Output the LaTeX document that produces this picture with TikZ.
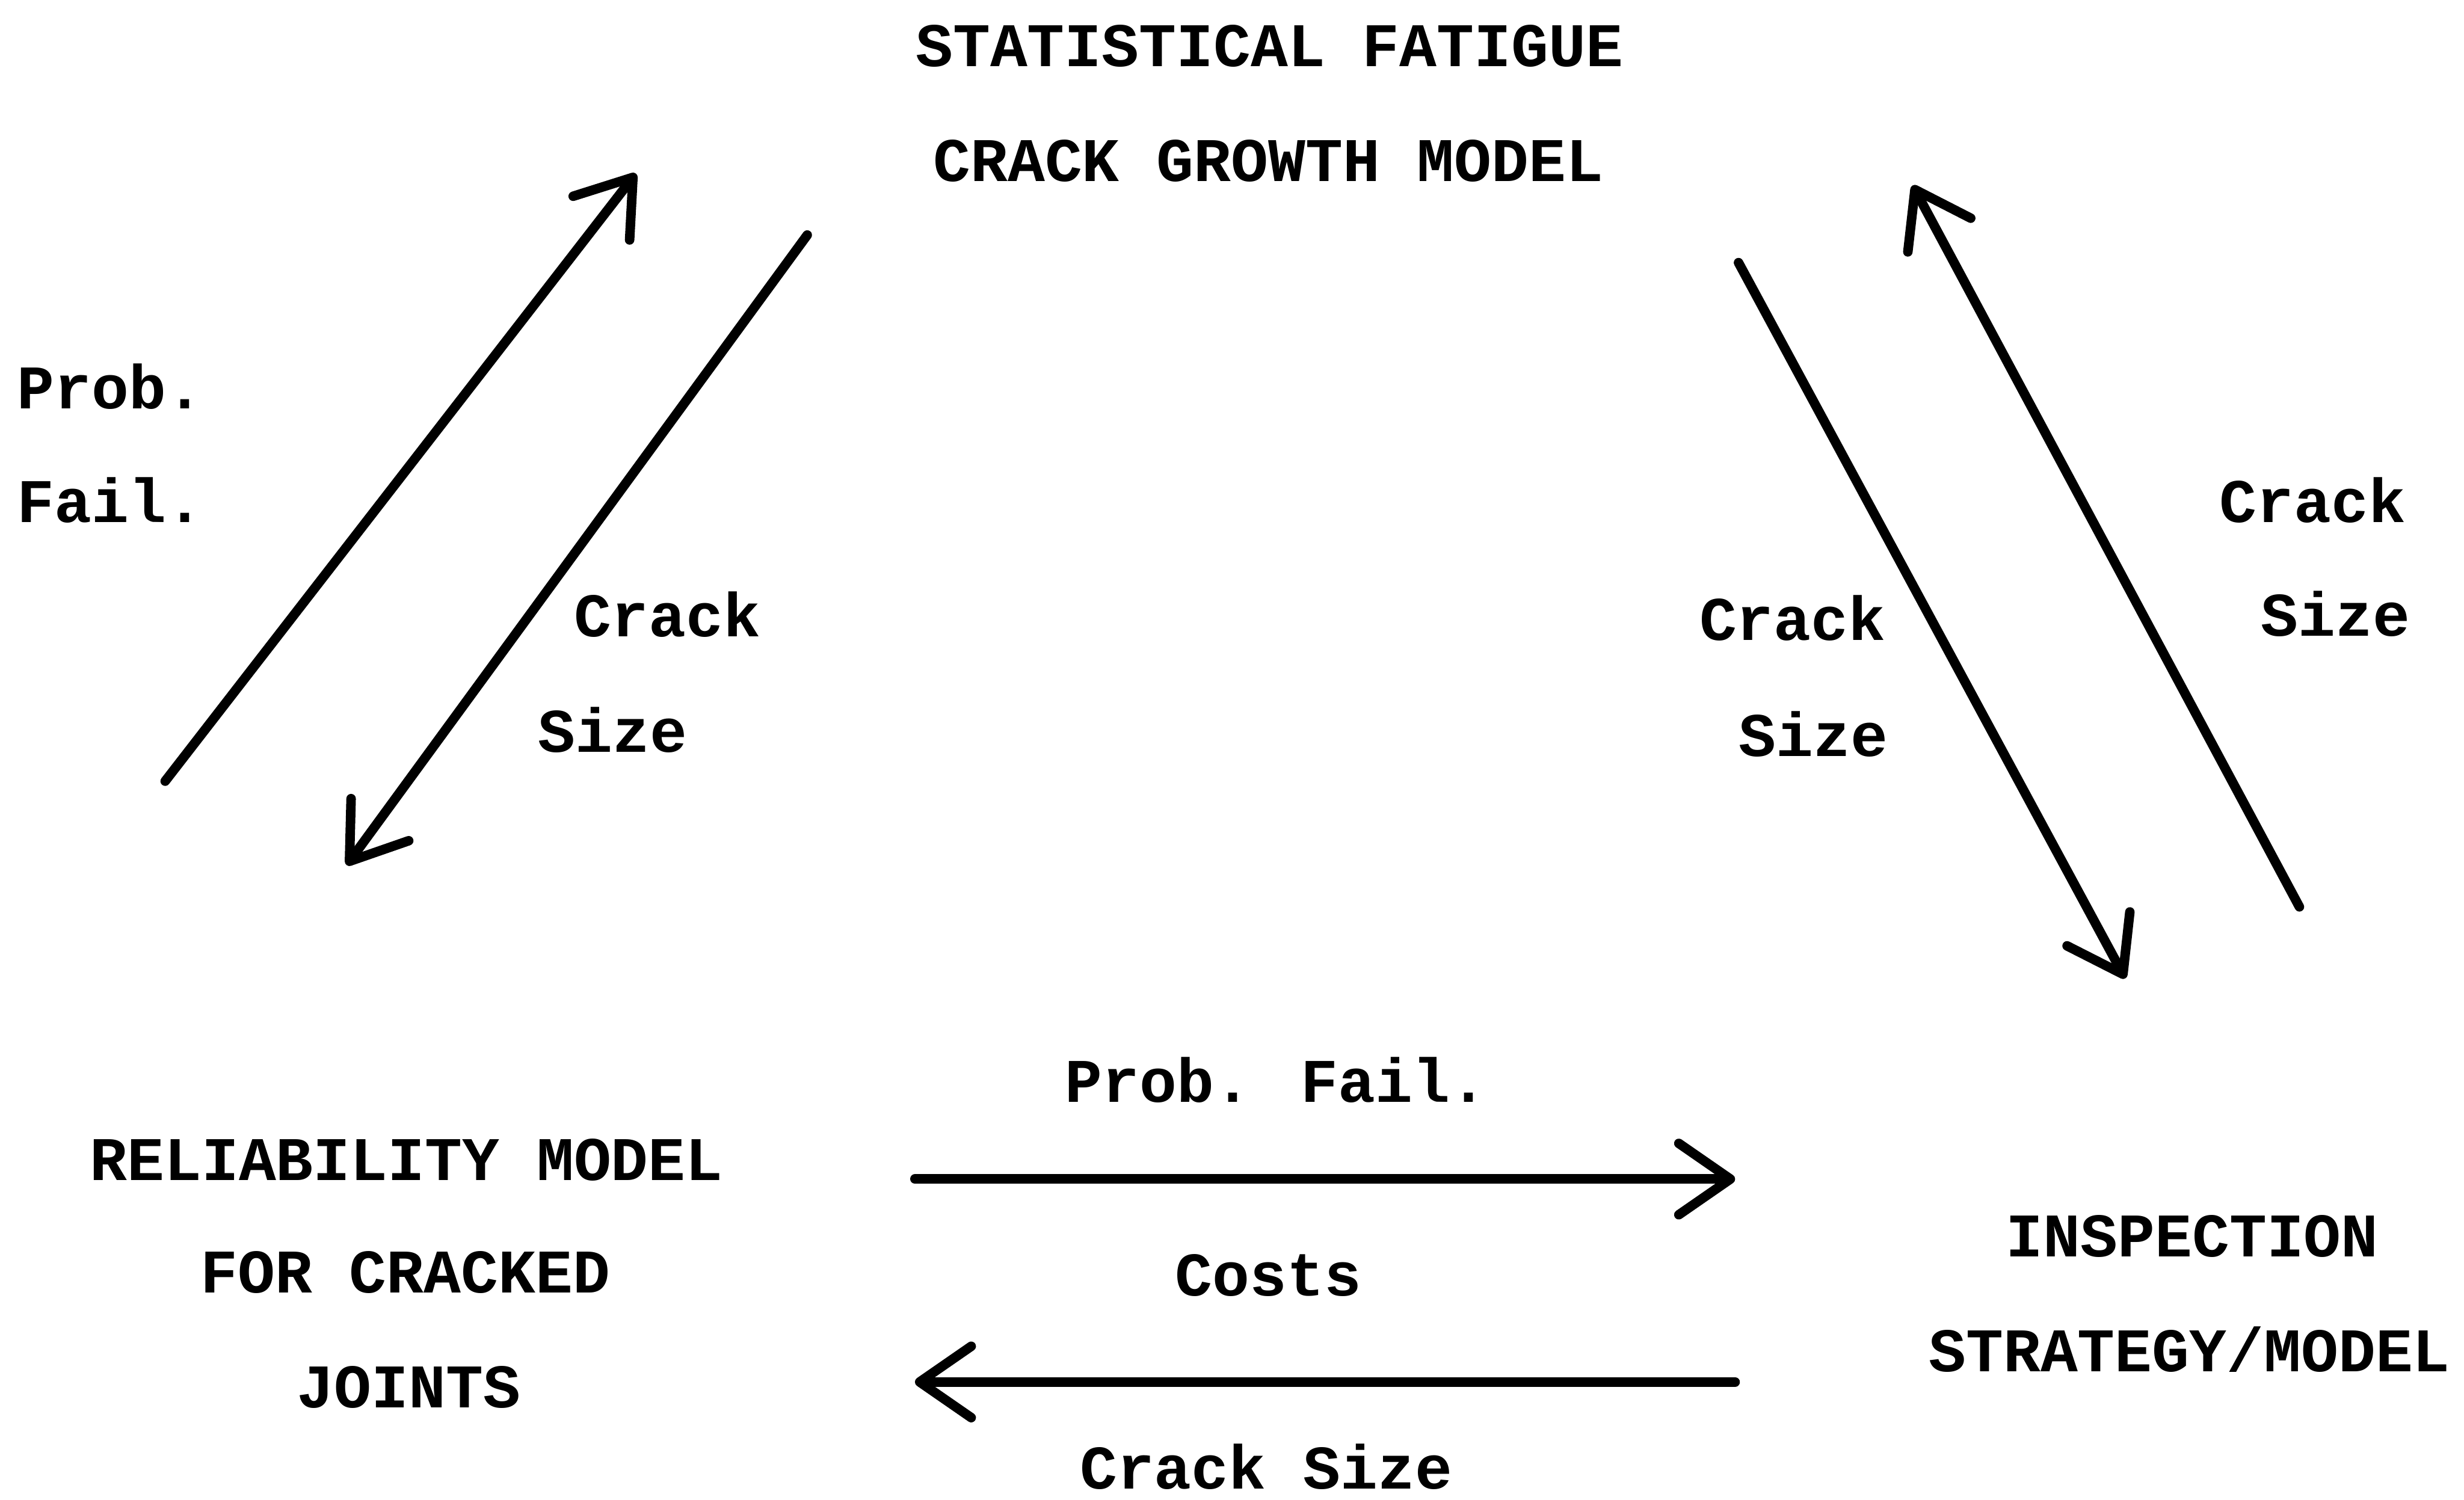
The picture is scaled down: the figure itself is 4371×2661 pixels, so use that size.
\documentclass[tikz,border=0pt]{standalone}
\usepackage{fontspec}
\setmonofont{Liberation Mono}
\usetikzlibrary{arrows.meta}
\newfontfamily\typefont{Liberation Mono}[BoldFont={Liberation Mono Bold}]
\begin{document}
\begin{tikzpicture}[x=0.01cm,y=-0.01cm,
  lbl/.style={font=\typefont\bfseries\fontsize{31.3}{40}\selectfont, inner sep=0pt, anchor=base},
  lblw/.style={lbl, anchor=base west},
  flow/.style={line width=4.8pt, line cap=round,
    -{Straight Barb[length=26pt,width=36pt,round]}}]
\useasboundingbox (0,0) rectangle (4371,2661);

% model blocks
\node[lbl] (sf1) at (2252,118) {STATISTICAL FATIGUE};
\node[lbl] (sf2) at (2250,322) {CRACK GROWTH MODEL};
\node[lbl] (rm1) at (721,2094) {RELIABILITY MODEL};
\node[lbl] (rm2) at (719,2294) {FOR CRACKED};
\node[lbl] (rm3) at (725,2498) {JOINTS};
\node[lbl] (is1) at (3889,2230) {INSPECTION};
\node[lbl] (is2) at (3884,2434) {STRATEGY/MODEL};

% connector labels
\node[lblw] (pf1) at (30,725) {Prob.};
\node[lblw] (pf2) at (30,927) {Fail.};
\node[lblw] (cl1) at (1018,1130) {Crack};
\node[lblw] (cl2) at (954,1334) {Size};
\node[lblw] (cm1) at (3014,1136) {Crack};
\node[lblw] (cm2) at (3084,1342) {Size};
\node[lblw] (cr1) at (3937,927) {Crack};
\node[lblw] (cr2) at (4010,1128) {Size};
\node[lbl] (hb1) at (2264,1956) {Prob. Fail.};
\node[lbl] (hb2) at (2250,2299) {Costs};
\node[lbl] (hb3) at (2246,2642) {Crack Size};

% connector end points
\coordinate (a1s) at (293,1386);  \coordinate (a1e) at (1128,308);
\coordinate (a2s) at (1432,417);  \coordinate (a2e) at (615,1535);
\coordinate (a3s) at (3084,466);  \coordinate (a3e) at (3770,1736);
\coordinate (a4s) at (4079,1609); \coordinate (a4e) at (3393,329);
\coordinate (a5s) at (1623,2092); \coordinate (a5e) at (3078,2092);
\coordinate (a6s) at (3078,2452); \coordinate (a6e) at (1623,2452);

\draw[flow] (a1s) -- (a1e);
\draw[flow] (a2s) -- (a2e);
\draw[flow] (a3s) -- (a3e);
\draw[flow] (a4s) -- (a4e);
\draw[flow] (a5s) -- (a5e);
\draw[flow] (a6s) -- (a6e);
\end{tikzpicture}
\end{document}
